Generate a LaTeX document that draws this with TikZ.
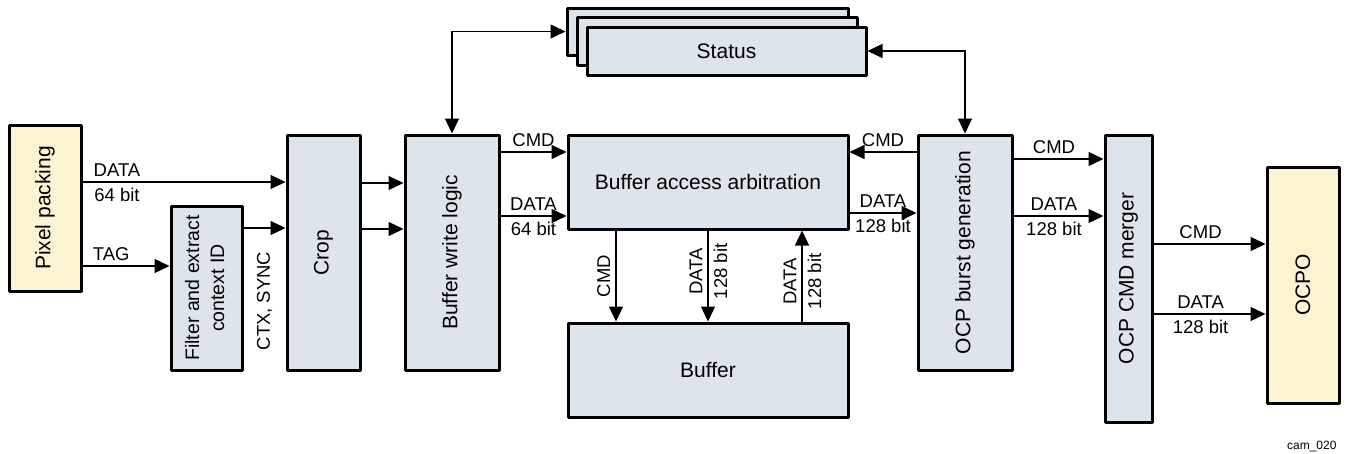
\documentclass[tikz,border=0pt]{standalone}
\usepackage{fontspec}
\setmainfont{Liberation Sans}
\usepackage{graphicx}
\usetikzlibrary{arrows.meta}
\definecolor{blkfill}{RGB}{222,228,236}
\definecolor{srcfill}{RGB}{250,244,210}
\newcommand{\vtext}[1]{\rotatebox{90}{#1}}

\begin{document}
\begin{tikzpicture}[x=1pt,y=-1pt]
\tikzstyle{blk}=[draw, line width=3pt, line join=round, fill=blkfill, font=\fontsize{21}{25}\selectfont, inner sep=0pt]
\tikzstyle{src}=[blk, fill=srcfill]
\tikzstyle{lbl}=[font=\fontsize{18.5}{22}\selectfont, inner sep=5pt]
\tikzstyle{arr}=[line width=1.3pt, -{Triangle[length=15pt,width=14pt]}]
\tikzstyle{darr}=[line width=1.3pt, {Triangle[length=15pt,width=14pt]}-{Triangle[length=15pt,width=14pt]}]
\useasboundingbox (0,0) rectangle (1347,453);
% blocks
\node[src, minimum width=72pt, minimum height=166pt] (pp) at (45,208) {\vtext{Pixel packing}};
\node[blk, minimum width=71pt, minimum height=164pt, font=\fontsize{19.5}{25}\selectfont] (flt) at (206.5,288) {\vtext{\begin{tabular}{@{}c@{}}Filter and extract\\context ID\end{tabular}}};
\node[blk, minimum width=73pt, minimum height=235pt] (crop) at (323.5,252.5) {\vtext{Crop}};
\node[blk, minimum width=94pt, minimum height=235pt] (bwl) at (452,252.5) {\vtext{Buffer write logic}};
\node[blk, minimum width=281pt, minimum height=47pt] (stb) at (707.5,31.5) {};
\node[blk, minimum width=280pt, minimum height=48pt] (stm) at (717,41) {};
\node[blk, minimum width=279pt, minimum height=48pt] (stf) at (726.5,51) {Status};
\node[blk, minimum width=280pt, minimum height=94pt] (baa) at (708,182) {Buffer access arbitration};
\node[blk, minimum width=280pt, minimum height=94pt] (buf) at (708,370) {Buffer};
\node[blk, minimum width=94pt, minimum height=235pt] (ocpb) at (965,252.5) {\vtext{OCP burst generation}};
\node[blk, minimum width=47pt, minimum height=287pt] (mrg) at (1128.5,278.5) {\vtext{OCP CMD merger}};
\node[src, minimum width=72pt, minimum height=236pt] (ocpo) at (1303,285) {\vtext{OCPO}};
% input side
\draw[arr] (pp.east |- 0,182) -- node[lbl, pos=0.17, above]{DATA} node[lbl, pos=0.17, below]{64 bit} (crop.west |- 0,182);
\draw[arr] (pp.east |- 0,266) -- node[lbl, pos=0.33, above]{TAG} (flt.west |- 0,266);
\draw[arr] (flt.east |- 0,228) -- (crop.west |- 0,228);
\node[lbl, rotate=90] (ctx) at (264.5,301) {CTX, SYNC};
\draw[arr] (crop.east |- 0,183) -- (bwl.west |- 0,183);
\draw[arr] (crop.east |- 0,229) -- (bwl.west |- 0,229);
\draw[darr] (bwl.north) |- (stb.west);
\draw[arr] (bwl.east |- 0,152) -- node[lbl, above]{CMD} (baa.west |- 0,152);
\draw[arr] (bwl.east |- 0,216) -- node[lbl, above]{DATA} node[lbl, below]{64 bit} (baa.west |- 0,216);
% buffer
\draw[arr] (baa.south -| 616,0) -- node[lbl, rotate=90, anchor=south]{CMD} (buf.north -| 616,0);
\draw[arr] (baa.south) -- node[lbl, pos=0.45, rotate=90, anchor=south]{DATA} node[lbl, pos=0.45, rotate=90, anchor=north]{128 bit} (buf.north);
\draw[arr] (buf.north -| 802,0) -- node[lbl, pos=0.44, rotate=90, anchor=south]{DATA} node[lbl, pos=0.44, rotate=90, anchor=north]{128 bit} (baa.south -| 802,0);
% output side
\draw[arr] (ocpb.west |- 0,152) -- node[lbl, above]{CMD} (baa.east |- 0,152);
\draw[arr] (baa.east |- 0,213) -- node[lbl, above]{DATA} node[lbl, below]{128 bit} (ocpb.west |- 0,213);
\draw[darr] (ocpb.north) |- (stf.east);
\draw[arr] (ocpb.east |- 0,159) -- node[lbl, pos=0.45, above]{CMD} (mrg.west |- 0,159);
\draw[arr] (ocpb.east |- 0,216) -- node[lbl, pos=0.45, above]{DATA} node[lbl, pos=0.45, below]{128 bit} (mrg.west |- 0,216);
\draw[arr] (mrg.east |- 0,244) -- node[lbl, pos=0.42, above]{CMD} (ocpo.west |- 0,244);
\draw[arr] (mrg.east |- 0,314) -- node[lbl, pos=0.42, above]{DATA} node[lbl, pos=0.42, below]{128 bit} (ocpo.west |- 0,314);
\node[font=\fontsize{12}{14}\selectfont, anchor=east] (fig) at (1340,446) {cam\_020};
\end{tikzpicture}
\end{document}
